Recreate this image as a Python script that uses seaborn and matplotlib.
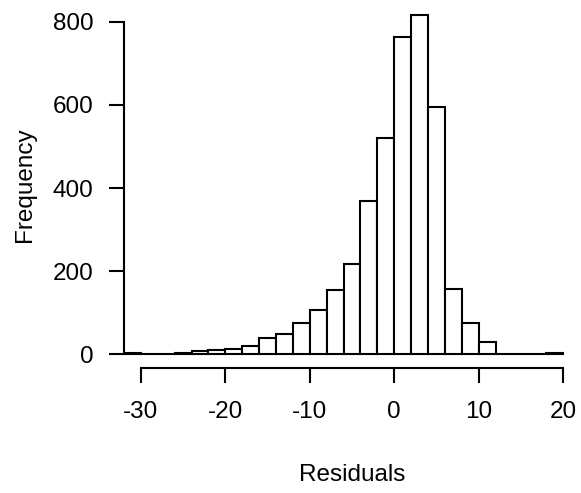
import numpy as np
import pandas as pd
import matplotlib
matplotlib.use('Agg')
import matplotlib.pyplot as plt
import seaborn as sns

# histogram bins (width 2) and counts
bin_edges = list(range(-32, 22, 2))
bin_counts = [3, 0, 2, 3, 8, 10, 13, 20, 39, 49, 75, 107, 155, 218,
              370, 520, 762, 817, 596, 158, 75, 30, 0, 0, 0, 3]
x_ticks = [-30, -20, -10, 0, 10, 20]
y_ticks = [0, 200, 400, 600, 800]

sns.set_style('white')
plt.rcParams['font.family'] = ['Liberation Sans', 'DejaVu Sans']

centres = [e + 1 for e in bin_edges[:-1]]
df = pd.DataFrame({'Residuals': centres, 'count': bin_counts})

fig = plt.figure(figsize=(5.81, 4.93), dpi=100)
ax = fig.add_axes([124 / 581, 125 / 493, 456 / 581, 367 / 493])

sns.histplot(data=df, x='Residuals', weights='count', bins=bin_edges,
             color='white', edgecolor='black', linewidth=1.5, alpha=1,
             ax=ax)

# R-style axes (xlim = c(-30, 20) with 4% extension)
ax.set_xlim(-32, 22)
ax.set_ylim(-32.7, 849.7)
for s in ['top', 'right']:
    ax.spines[s].set_visible(False)
ax.spines['left'].set_bounds(0, 800)
ax.spines['bottom'].set_bounds(-30, 20)
for s in ['left', 'bottom']:
    ax.spines[s].set_linewidth(1.5)
    ax.spines[s].set_color('black')

ax.set_xticks(x_ticks)
ax.set_yticks(y_ticks)
ax.tick_params(axis='both', direction='out', length=10.5, width=1.5,
               colors='black', labelsize=17.5, left=True, bottom=True)
ax.tick_params(axis='y', pad=11.5)
ax.tick_params(axis='x', pad=13.5)
ax.set_xticklabels([str(t) for t in x_ticks])

ax.set_xlabel('Residuals', fontsize=17.5, labelpad=29, color='black')
ax.set_ylabel('Frequency', fontsize=17.5, labelpad=12, color='black')

fig.savefig('out.png', dpi=100)
